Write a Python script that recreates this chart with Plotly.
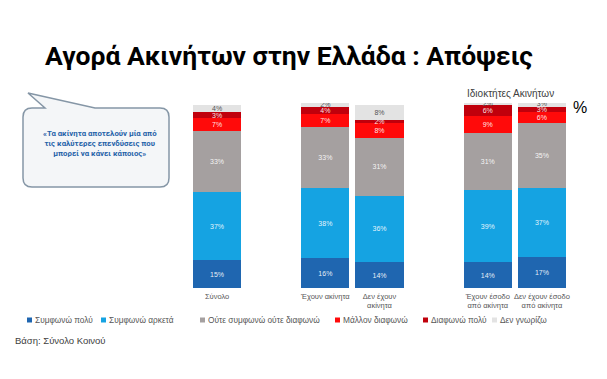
import plotly.graph_objects as go

# ---- data ----
categories = ["Σύνολο", "Έχουν ακίνητα", "Δεν έχουν<br>ακίνητα",
              "Έχουν έσοδο<br>από ακίνητα", "Δεν έχουν έσοδο<br>από ακίνητα"]
series_names = ["Συμφωνώ πολύ", "Συμφωνώ αρκετά", "Ούτε συμφωνώ ούτε διαφωνώ",
                "Μάλλον διαφωνώ", "Διαφωνώ πολύ", "Δεν γνωρίζω"]
agree_much = [15, 16, 14, 14, 17]
agree_some = [37, 38, 36, 39, 37]
neutral = [33, 33, 31, 31, 35]
rather_disagree = [7, 7, 8, 9, 6]
disagree_much = [3, 4, 2, 6, 3]
dont_know = [4, 2, 8, 2, 3]
series_values = [agree_much, agree_some, neutral, rather_disagree, disagree_much, dont_know]

colors = ["#1F66B0", "#15A3E2", "#A5A0A0", "#FF0A0A", "#C0000C", "#E3E3E3"]
text_colors = ["rgba(255,255,255,0.9)"] * 5 + ["#555555"]

# group layout: spacer slots between groups
groups = [[0], [1, 2], [3, 4]]
x_cats = []
spacers = []
for gi, g in enumerate(groups):
    if gi > 0:
        sp = " " * gi
        x_cats.append(sp)
        spacers.append(sp)
    for i in g:
        x_cats.append(categories[i])

OFF = 8  # page body margin
W, H = 607 - OFF, 379 - OFF
ML, MR, MT, MB = 190 - OFF, 38, 103 - OFF, 91
PW, PH = W - ML - MR, H - MT - MB


def X(px):  # page pixel -> paper
    return (px - OFF - ML) / PW


def Y(py):
    return (H - MB - (py - OFF)) / PH


fig = go.Figure()
for name, vals, col, tcol in zip(series_names, series_values, colors, text_colors):
    ys = []
    k = 0
    for c in x_cats:
        if c in spacers:
            ys.append(None)
        else:
            ys.append(vals[k])
            k += 1
    fig.add_trace(go.Bar(
        x=x_cats, y=ys, name=name, marker=dict(color=col, line=dict(width=0)),
        text=[f"{v}%" if v is not None else "" for v in ys],
        textposition="inside", insidetextanchor="middle", constraintext="none",
        textfont=dict(size=7, color=tcol, family="Liberation Sans, Arial, sans-serif"),
        hoverinfo="skip", showlegend=False,
    ))

fig.update_layout(
    barmode="stack", bargap=0.11,
    width=W, height=H, margin=dict(l=ML, r=MR, t=MT, b=MB),
    plot_bgcolor="white", paper_bgcolor="white",
    uniformtext=dict(minsize=7, mode="show"),
    font=dict(family="Liberation Sans, Arial, sans-serif"),
)
fig.update_xaxes(type="category", categoryorder="array", categoryarray=x_cats,
                 showgrid=False, showline=False, zeroline=False, ticks="",
                 tickfont=dict(size=7.5, color="#555555"), ticklabelstandoff=2)
fig.update_yaxes(range=[0, 100], visible=False)

shapes = []
# callout bubble
bx0, bx1, by0, by1, r = 23, 169, 108, 187, 9
path = (f"M {X(bx0 + r)},{Y(by0)} L {X(45)},{Y(by0)} L {X(28)},{Y(93)} L {X(95)},{Y(by0)} "
        f"L {X(bx1 - r)},{Y(by0)} Q {X(bx1)},{Y(by0)} {X(bx1)},{Y(by0 + r)} "
        f"L {X(bx1)},{Y(by1 - r)} Q {X(bx1)},{Y(by1)} {X(bx1 - r)},{Y(by1)} "
        f"L {X(bx0 + r)},{Y(by1)} Q {X(bx0)},{Y(by1)} {X(bx0)},{Y(by1 - r)} "
        f"L {X(bx0)},{Y(by0 + r)} Q {X(bx0)},{Y(by0)} {X(bx0 + r)},{Y(by0)} Z")
shapes.append(dict(type="path", xref="paper", yref="paper", path=path,
                   fillcolor="#F4F6F8", line=dict(color="#8596A6", width=1.5), layer="below"))

annotations = []
annotations.append(dict(
    x=X(43), y=Y(55), xref="paper", yref="paper", xanchor="left", yanchor="middle",
    text="<b>Αγορά Ακινήτων στην Ελλάδα : Απόψεις</b>", showarrow=False,
    font=dict(size=26.5, color="black", family="Roboto, Liberation Sans, sans-serif")))
annotations.append(dict(
    x=X(100), y=Y(143), xref="paper", yref="paper", xanchor="center", yanchor="middle",
    text="<b>«Τα ακίνητα αποτελούν μία από<br>τις καλύτερες επενδύσεις που<br>μπορεί να κάνει κάποιος»</b>",
    showarrow=False, align="center",
    font=dict(size=7.8, color="#1F62A8", family="Roboto, Liberation Sans, sans-serif")))
annotations.append(dict(
    x=X(510), y=Y(93), xref="paper", yref="paper", xanchor="center", yanchor="middle",
    text="Ιδιοκτήτες Ακινήτων", showarrow=False,
    font=dict(size=10, color="#404040")))
annotations.append(dict(
    x=X(580), y=Y(107), xref="paper", yref="paper", xanchor="center", yanchor="middle",
    text="%", showarrow=False, font=dict(size=16, color="black")))
annotations.append(dict(
    x=X(13), y=Y(340), xref="paper", yref="paper", xanchor="left", yanchor="middle",
    text="Βάση: Σύνολο Κοινού", showarrow=False, font=dict(size=9.5, color="#404040")))

# manual legend
legend_x = [27, 101, 200, 335, 423, 492]
ly = 320
for lx, name, col in zip(legend_x, series_names, colors):
    shapes.append(dict(type="rect", xref="paper", yref="paper",
                       x0=X(lx), x1=X(lx + 5), y0=Y(ly + 2.5), y1=Y(ly - 2.5),
                       fillcolor=col, line=dict(width=0)))
    annotations.append(dict(
        x=X(lx + 6), y=Y(ly), xref="paper", yref="paper", xanchor="left", yanchor="middle",
        text=name, showarrow=False, font=dict(size=8.3, color="#555555")))

fig.update_layout(shapes=shapes, annotations=annotations)
fig.write_html("out.html")
